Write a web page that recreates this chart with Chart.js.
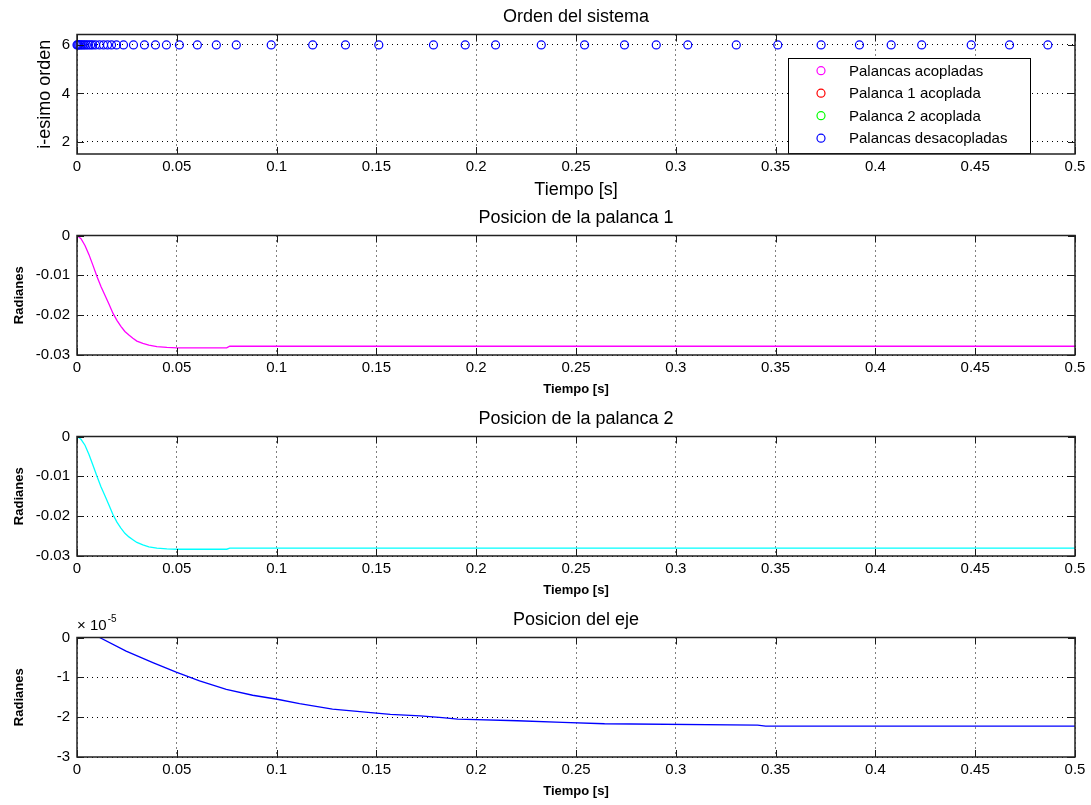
<!DOCTYPE html>
<html>
<head>
<meta charset="utf-8">
<script src="https://cdn.jsdelivr.net/npm/chart.js@4/dist/chart.umd.min.js"></script>
<style>
  body { margin: 0; background: #fff; }
  #wrap { position: relative; width: 1091px; height: 805px; }
  #wrap canvas { position: absolute; left: 0; }
  #expo { position: absolute; left: 77px; top: 617px; font: 15px "Liberation Sans", Arial, sans-serif; line-height: 15px; color: #000; white-space: nowrap; }
  #expo span { position: relative; top: -8px; font-size: 10px; margin-left: 1px; }
  .xt { position: absolute; font: 15px "Liberation Sans", Arial, sans-serif; line-height: 18px; color: #000; white-space: nowrap; transform: translate(-50%, -50%); }
</style>
</head>
<body>
<div id="wrap">
  <canvas id="c1" width="1091" height="201" style="top:0px"></canvas>
  <canvas id="c2" width="1091" height="201" style="top:201px"></canvas>
  <canvas id="c3" width="1091" height="201" style="top:402px"></canvas>
  <canvas id="c4" width="1091" height="202" style="top:603px"></canvas>
  <div id="expo">&times; 10<span>-5</span></div>
</div>
<script>
// shared x axis
const xTicks = [0, 0.05, 0.1, 0.15, 0.2, 0.25, 0.3, 0.35, 0.4, 0.45, 0.5];

// Orden del sistema
const orderLabels = ['Palancas acopladas', 'Palanca 1 acoplada', 'Palanca 2 acoplada', 'Palancas desacopladas'];
const orderColors = ['#ff00ff', '#ff0000', '#00ff00', '#0000ff'];
const orderTimes = [0, 0.0004, 0.0009, 0.0015, 0.0022, 0.003, 0.0038, 0.0047, 0.0057, 0.0068, 0.0078, 0.0093,
  0.0113, 0.0133, 0.0153, 0.0173, 0.0198, 0.0233, 0.0283, 0.0338, 0.0393, 0.0448, 0.0513, 0.0603, 0.0698,
  0.0798, 0.0973, 0.1181, 0.1345, 0.1512, 0.1786, 0.1945, 0.2097, 0.2326, 0.2543, 0.2743, 0.2902, 0.3060,
  0.3303, 0.3511, 0.3728, 0.3920, 0.4079, 0.4232, 0.4480, 0.4672, 0.4864];
const orderValues = [6, 6, 6, 6, 6, 6, 6, 6, 6, 6, 6, 6,
  6, 6, 6, 6, 6, 6, 6, 6, 6, 6, 6, 6, 6,
  6, 6, 6, 6, 6, 6, 6, 6, 6, 6, 6, 6, 6,
  6, 6, 6, 6, 6, 6, 6, 6, 6];
const orderTicks = [2, 4, 6];

// Posicion de la palanca 1
const pos1Times = [0, 0.002, 0.004, 0.006, 0.008, 0.010, 0.012, 0.014, 0.016, 0.018, 0.020, 0.022, 0.024,
  0.026, 0.028, 0.030, 0.033, 0.036, 0.040, 0.045, 0.050, 0.060, 0.075, 0.0765, 0.1, 0.2, 0.3, 0.4, 0.5];
const pos1Values = [0, -0.0008, -0.0025, -0.0048, -0.0075, -0.0103, -0.0128, -0.0150, -0.0172, -0.0195,
  -0.0213, -0.0228, -0.0241, -0.0250, -0.0258, -0.0265, -0.0271, -0.0275, -0.0279, -0.0281, -0.0282,
  -0.0282, -0.0282, -0.0278, -0.0278, -0.0278, -0.0278, -0.0278, -0.0278];

// Posicion de la palanca 2
const pos2Times = [0, 0.002, 0.004, 0.006, 0.008, 0.010, 0.012, 0.014, 0.016, 0.018, 0.020, 0.022, 0.024,
  0.026, 0.028, 0.030, 0.033, 0.036, 0.040, 0.045, 0.050, 0.060, 0.075, 0.0765, 0.1, 0.2, 0.3, 0.4, 0.5];
const pos2Values = [0, -0.0007, -0.0022, -0.0045, -0.0072, -0.0100, -0.0126, -0.0149, -0.0172, -0.0196,
  -0.0215, -0.0230, -0.0243, -0.0252, -0.0259, -0.0266, -0.0272, -0.0277, -0.0280, -0.0282, -0.0283,
  -0.0283, -0.0283, -0.0280, -0.0280, -0.0280, -0.0280, -0.0280, -0.0280];
const posTicks = [-0.03, -0.02, -0.01, 0];

// Posicion del eje
const axleTimes = [0.0113, 0.0246, 0.038, 0.0497, 0.0614, 0.0748, 0.088, 0.1003, 0.1115, 0.128, 0.150,
  0.157, 0.172, 0.183, 0.1907, 0.2207, 0.2433, 0.2643, 0.341, 0.345, 0.5];
const axleValues = [0, -0.34e-5, -0.63e-5, -0.87e-5, -1.09e-5, -1.30e-5, -1.45e-5, -1.55e-5, -1.66e-5,
  -1.80e-5, -1.90e-5, -1.93e-5, -1.97e-5, -2.01e-5, -2.05e-5, -2.09e-5, -2.13e-5, -2.165e-5, -2.20e-5,
  -2.225e-5, -2.225e-5];
const axleTicks = [-3e-5, -2e-5, -1e-5, 0];

const FONT = '"Liberation Sans", Arial, Helvetica, sans-serif';
const PLOT_LEFT = 77, PLOT_RIGHT = 1075;
const AX_TOP = 34.5, AX_BOTTOM = 154;

const toPoints = (xs, ys) => xs.map((x, i) => ({ x: x, y: ys[i] }));
const fmt2 = v => String(+v.toFixed(2));

// MATLAB look: box, inner ticks, axis labels, legend
const matlabAxes = {
  id: 'matlabAxes',
  afterDraw(chart, args, o) {
    const { ctx, chartArea: a } = chart;
    const x = chart.scales.x, y = chart.scales.y;
    const cx = (a.left + a.right) / 2;
    ctx.save();

    ctx.strokeStyle = '#1a1a1a';
    ctx.lineWidth = 1;
    ctx.beginPath();
    xTicks.forEach(v => {
      const px = Math.round(x.getPixelForValue(v)) + 0.5;
      ctx.moveTo(px, a.bottom); ctx.lineTo(px, a.bottom - 7);
      ctx.moveTo(px, a.top); ctx.lineTo(px, a.top + 7);
    });
    y.ticks.forEach(t => {
      const py = Math.round(y.getPixelForValue(t.value)) + 0.5;
      ctx.moveTo(a.left, py); ctx.lineTo(a.left + 7, py);
      ctx.moveTo(a.right, py); ctx.lineTo(a.right - 7, py);
    });
    ctx.stroke();

    if (o.legend) {
      const bl = a.right - 287, bt = a.top + 23.5, bw = 242, bh = 95;
      ctx.fillStyle = '#fff';
      ctx.fillRect(bl, bt, bw, bh);
      ctx.lineWidth = 1;
      ctx.strokeStyle = '#000';
      ctx.strokeRect(bl + 0.5, bt + 0.5, bw, bh);
      ctx.font = '15px ' + FONT;
      ctx.textAlign = 'left';
      ctx.textBaseline = 'middle';
      chart.data.datasets.forEach((ds, i) => {
        const ry = bt + 12.7 + i * 22.5;
        ctx.beginPath();
        ctx.strokeStyle = ds.borderColor;
        ctx.lineWidth = 1.2;
        ctx.arc(bl + 33, ry, 4, 0, Math.PI * 2);
        ctx.stroke();
        ctx.fillStyle = '#000';
        ctx.fillText(ds.label, bl + 61, ry + 1);
      });
    }

    ctx.strokeStyle = '#222';
    ctx.lineWidth = 1.5;
    ctx.strokeRect(a.left, a.top, a.width, a.height);

    ctx.fillStyle = '#000';
    ctx.textAlign = 'center';
    ctx.textBaseline = 'alphabetic';
    ctx.font = '18px ' + FONT;
    ctx.fillText(o.title, cx, a.top - 13);

    ctx.font = o.small ? 'bold 13px ' + FONT : '18px ' + FONT;
    ctx.fillText(o.xlabel, cx, a.bottom + (o.small ? 38 : 41));

    ctx.translate(o.small ? 22.5 : 50, (a.top + a.bottom) / 2);
    ctx.rotate(-Math.PI / 2);
    ctx.textAlign = 'center';
    ctx.font = o.small ? 'bold 13px ' + FONT : '18px ' + FONT;
    ctx.fillText(o.ylabel, 0, 0);
    ctx.restore();
  }
};

// x tick labels as page text, placed from the chart's own x scale
function addXLabels(chart) {
  const canvas = chart.canvas;
  const top = parseFloat(canvas.style.top) || 0;
  const x = chart.scales.x, a = chart.chartArea;
  const wrap = document.getElementById('wrap');
  xTicks.forEach(v => {
    const d = document.createElement('div');
    d.className = 'xt';
    d.textContent = fmt2(v);
    d.style.left = x.getPixelForValue(v) + 'px';
    d.style.top = (top + a.bottom + 12) + 'px';
    wrap.appendChild(d);
  });
}

function makePanel(id, cfg) {
  const canvas = document.getElementById(id);
  const chart = new Chart(canvas, {
    type: 'scatter',
    data: { datasets: cfg.datasets },
    plugins: [matlabAxes],
    options: {
      responsive: false,
      animation: false,
      events: [],
      layout: { padding: { left: 0, right: 1091 - PLOT_RIGHT, top: AX_TOP, bottom: canvas.height - AX_BOTTOM - 30 } },
      plugins: {
        legend: { display: false },
        tooltip: { enabled: false },
        matlabAxes: cfg.text
      },
      scales: {
        x: {
          type: 'linear', min: 0, max: 0.5,
          afterBuildTicks: s => { s.ticks = xTicks.map(v => ({ value: v })); },
          afterFit: s => { s.height = 30; },
          grid: { color: '#000', lineWidth: 1, drawTicks: false },
          border: { display: false, dash: [1, 4] },
          ticks: { display: false, autoSkip: false }
        },
        y: {
          type: 'linear', min: cfg.yMin, max: cfg.yMax,
          afterBuildTicks: s => { s.ticks = cfg.yTicks.map(v => ({ value: v })); },
          afterFit: s => { s.width = PLOT_LEFT; },
          grid: { color: '#000', lineWidth: 1, drawTicks: false },
          border: { display: false, dash: [1, 4] },
          ticks: { color: '#000', font: { family: FONT, size: 15 }, padding: 7, autoSkip: false, callback: cfg.yFormat }
        }
      }
    }
  });
  addXLabels(chart);
  return chart;
}

const lineSet = (xs, ys, color) => ({
  data: toPoints(xs, ys), showLine: true, borderColor: color, borderWidth: 1.3,
  pointRadius: 0, fill: false, tension: 0
});

makePanel('c1', {
  datasets: orderLabels.map((label, i) => ({
    label: label,
    data: i === 3 ? toPoints(orderTimes, orderValues) : [],
    borderColor: orderColors[i], backgroundColor: 'rgba(0,0,0,0)',
    pointStyle: 'circle', pointRadius: 4, borderWidth: 1.2, showLine: false, clip: false
  })),
  yMin: 1.5, yMax: 6.43, yTicks: orderTicks, yFormat: v => String(v),
  text: { title: 'Orden del sistema', xlabel: 'Tiempo [s]', ylabel: 'i-esimo orden', small: false, legend: true }
});

makePanel('c2', {
  datasets: [lineSet(pos1Times, pos1Values, '#ff00ff')],
  yMin: -0.03, yMax: 0, yTicks: posTicks, yFormat: v => fmt2(v),
  text: { title: 'Posicion de la palanca 1', xlabel: 'Tiempo [s]', ylabel: 'Radianes', small: true }
});

makePanel('c3', {
  datasets: [lineSet(pos2Times, pos2Values, '#00ffff')],
  yMin: -0.03, yMax: 0, yTicks: posTicks, yFormat: v => fmt2(v),
  text: { title: 'Posicion de la palanca 2', xlabel: 'Tiempo [s]', ylabel: 'Radianes', small: true }
});

makePanel('c4', {
  datasets: [lineSet(axleTimes, axleValues, '#0000ff')],
  yMin: -3e-5, yMax: 0, yTicks: axleTicks, yFormat: v => String(Math.round(v * 1e5) || 0),
  text: { title: 'Posicion del eje', xlabel: 'Tiempo [s]', ylabel: 'Radianes', small: true }
});
</script>
</body>
</html>
